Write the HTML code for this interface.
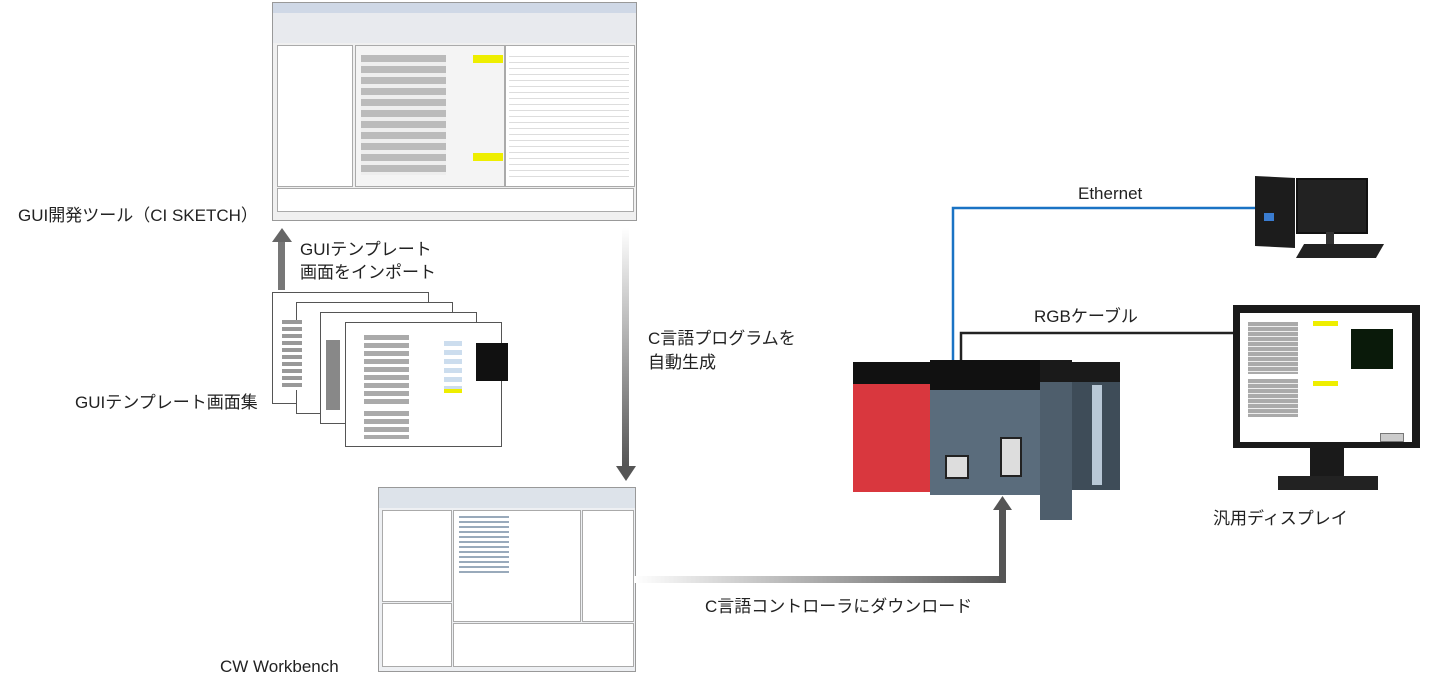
<!DOCTYPE html>
<html><head><meta charset="utf-8"><style>
body{margin:0;width:1440px;height:680px;background:#fff;position:relative;overflow:hidden;font-family:"Liberation Sans","Noto Sans CJK JP",sans-serif;color:#222}
.a{position:absolute}
.t{position:absolute;font-size:17px;line-height:22px;white-space:nowrap}
.win{position:absolute;background:#f0f0f0;border:1px solid #999}
.bar{position:absolute;background:#dfe5ee}
.row{position:absolute;height:6px;background:#bbb}
</style></head><body>

<!-- CI SKETCH window -->
<div class="win" style="left:272px;top:2px;width:363px;height:217px">
 <div class="bar" style="left:0;top:0;width:363px;height:10px;background:#cfd8e6"></div>
 <div class="bar" style="left:0;top:10px;width:363px;height:30px;background:#e8eaee"></div>
 <div class="a" style="left:4px;top:42px;width:74px;height:140px;background:#fff;border:1px solid #aaa"></div>
 <div class="a" style="left:82px;top:42px;width:148px;height:140px;background:#f4f4f4;border:1px solid #aaa"></div>
 <div class="a" style="left:232px;top:42px;width:128px;height:140px;background:#fff;border:1px solid #aaa"></div>
 <div class="a" style="left:4px;top:185px;width:355px;height:22px;background:#fff;border:1px solid #aaa"></div>
 <div class="a" style="left:88px;top:52px;width:85px;height:120px;background:repeating-linear-gradient(#bbb 0 7px,#eee 7px 11px)"></div>
 <div class="a" style="left:200px;top:52px;width:30px;height:8px;background:#ee0"></div>
 <div class="a" style="left:200px;top:150px;width:30px;height:8px;background:#ee0"></div>
 <div class="a" style="left:236px;top:48px;width:120px;height:130px;background:repeating-linear-gradient(#fff 0 5px,#ddd 5px 6px)"></div>
</div>
<div class="t" style="left:18px;top:205px">GUI開発ツール（CI SKETCH）</div>

<!-- up arrow -->
<svg class="a" style="left:270px;top:228px" width="24" height="62"><rect x="8" y="12" width="7" height="50" fill="#777"/><polygon points="2,14 12,0 22,14" fill="#666"/></svg>
<div class="t" style="left:300px;top:238px;line-height:23px">GUIテンプレート<br>画面をインポート</div>

<!-- template stack -->
<div class="a" style="left:272px;top:292px;width:155px;height:110px;background:#fff;border:1px solid #555"></div>
<div class="a" style="left:296px;top:302px;width:155px;height:110px;background:#fff;border:1px solid #555"></div>
<div class="a" style="left:320px;top:312px;width:155px;height:110px;background:#fff;border:1px solid #555"></div>
<div class="a" style="left:345px;top:322px;width:155px;height:123px;background:#fff;border:1px solid #555">
 <div class="a" style="left:18px;top:12px;width:45px;height:70px;background:repeating-linear-gradient(#aaa 0 5px,#fff 5px 8px)"></div>
 <div class="a" style="left:98px;top:18px;width:18px;height:50px;background:repeating-linear-gradient(#cde 0 5px,#fff 5px 9px)"></div>
 <div class="a" style="left:130px;top:20px;width:32px;height:38px;background:#111"></div>
 <div class="a" style="left:98px;top:66px;width:18px;height:4px;background:#ee0"></div>
 <div class="a" style="left:18px;top:88px;width:45px;height:28px;background:repeating-linear-gradient(#aaa 0 5px,#fff 5px 8px)"></div>
</div>
<div class="a" style="left:282px;top:320px;width:20px;height:70px;background:repeating-linear-gradient(#999 0 4px,#fff 4px 7px)"></div>
<div class="a" style="left:326px;top:340px;width:14px;height:70px;background:#888"></div>
<div class="t" style="left:75px;top:392px">GUIテンプレート画面集</div>

<!-- down arrow gradient -->
<svg class="a" style="left:614px;top:228px" width="24" height="254"><defs><linearGradient id="g1" x1="0" y1="0" x2="0" y2="1"><stop offset="0" stop-color="#fff"/><stop offset="1" stop-color="#555"/></linearGradient></defs><rect x="8" y="0" width="7" height="238" fill="url(#g1)"/><polygon points="2,238 12,253 22,238" fill="#555"/></svg>
<div class="t" style="left:648px;top:327px;line-height:24px">C言語プログラムを<br>自動生成</div>

<!-- CW Workbench -->
<div class="win" style="left:378px;top:487px;width:256px;height:183px;background:#eef0f3">
 <div class="bar" style="left:0;top:0;width:256px;height:20px;background:#dde3ea"></div>
 <div class="a" style="left:3px;top:22px;width:68px;height:90px;background:#fff;border:1px solid #aaa"></div>
 <div class="a" style="left:74px;top:22px;width:126px;height:110px;background:#fff;border:1px solid #aaa"></div>
 <div class="a" style="left:203px;top:22px;width:50px;height:110px;background:#fff;border:1px solid #aaa"></div>
 <div class="a" style="left:3px;top:115px;width:68px;height:62px;background:#fff;border:1px solid #aaa"></div>
 <div class="a" style="left:74px;top:135px;width:179px;height:42px;background:#fff;border:1px solid #aaa"></div>
 <div class="a" style="left:80px;top:28px;width:50px;height:60px;background:repeating-linear-gradient(#9ab 0 2px,#fff 2px 5px)"></div>
</div>
<div class="t" style="left:220px;top:656px">CW Workbench</div>

<!-- download arrow -->
<svg class="a" style="left:634px;top:494px" width="380" height="96"><defs><linearGradient id="g2" x1="0" y1="0" x2="1" y2="0"><stop offset="0" stop-color="#fff"/><stop offset="1" stop-color="#555"/></linearGradient></defs><rect x="0" y="82" width="372" height="7" fill="url(#g2)"/><rect x="365" y="14" width="7" height="75" fill="#555"/><polygon points="359,16 368.5,2 378,16" fill="#555"/></svg>
<div class="t" style="left:705px;top:596px">C言語コントローラにダウンロード</div>

<!-- cables -->
<svg class="a" style="left:0;top:0" width="1440" height="680"><polyline points="953,360 953,208 1262,208" fill="none" stroke="#1a73c4" stroke-width="2.5"/><polyline points="961,360 961,333 1236,333" fill="none" stroke="#222" stroke-width="2.5"/></svg>
<div class="t" style="left:1078px;top:183px">Ethernet</div>
<div class="t" style="left:1034px;top:306px">RGBケーブル</div>

<!-- PLC -->
<div class="a" style="left:853px;top:362px;width:77px;height:130px;background:#d9373e"></div>
<div class="a" style="left:853px;top:362px;width:77px;height:22px;background:#111"></div>
<div class="a" style="left:930px;top:360px;width:110px;height:135px;background:#5a6c7c"></div>
<div class="a" style="left:930px;top:360px;width:110px;height:30px;background:#111"></div>
<div class="a" style="left:945px;top:455px;width:20px;height:20px;background:#ddd;border:2px solid #222"></div>
<div class="a" style="left:1000px;top:437px;width:18px;height:36px;background:#ddd;border:2px solid #222"></div>
<div class="a" style="left:1040px;top:360px;width:32px;height:160px;background:#4e5e6c"></div>
<div class="a" style="left:1040px;top:360px;width:32px;height:22px;background:#1a1a1a"></div>
<div class="a" style="left:1072px;top:362px;width:48px;height:128px;background:#3e4c58"></div>
<div class="a" style="left:1072px;top:362px;width:48px;height:20px;background:#1a1a1a"></div>
<div class="a" style="left:1092px;top:385px;width:10px;height:100px;background:#b8c8d6"></div>

<!-- computer -->
<div class="a" style="left:1255px;top:177px;width:40px;height:70px;background:#1c1c1c;transform:skewY(3deg)"></div>
<div class="a" style="left:1264px;top:213px;width:10px;height:8px;background:#3a7cd0"></div>
<div class="a" style="left:1296px;top:178px;width:68px;height:52px;background:#222;border:2px solid #111"></div>
<div class="a" style="left:1326px;top:232px;width:8px;height:12px;background:#333"></div>
<div class="a" style="left:1300px;top:244px;width:80px;height:14px;background:#222;transform:skewX(-30deg)"></div>

<!-- monitor -->
<div class="a" style="left:1233px;top:305px;width:187px;height:143px;background:#1a1a1a"></div>
<div class="a" style="left:1240px;top:313px;width:172px;height:129px;background:#fff"></div>
<div class="a" style="left:1248px;top:322px;width:50px;height:52px;background:repeating-linear-gradient(#aaa 0 4px,#eee 4px 5px)"></div>
<div class="a" style="left:1248px;top:379px;width:50px;height:38px;background:repeating-linear-gradient(#aaa 0 4px,#eee 4px 5px)"></div>
<div class="a" style="left:1313px;top:321px;width:25px;height:5px;background:#ee0"></div>
<div class="a" style="left:1313px;top:381px;width:25px;height:5px;background:#ee0"></div>
<div class="a" style="left:1351px;top:329px;width:42px;height:40px;background:#0a1a0a"></div>
<div class="a" style="left:1380px;top:433px;width:22px;height:7px;background:#ccc;border:1px solid #777"></div>
<div class="a" style="left:1310px;top:448px;width:34px;height:30px;background:#1a1a1a"></div>
<div class="a" style="left:1278px;top:476px;width:100px;height:14px;background:#222"></div>
<div class="t" style="left:1213px;top:508px">汎用ディスプレイ</div>

</body></html>
